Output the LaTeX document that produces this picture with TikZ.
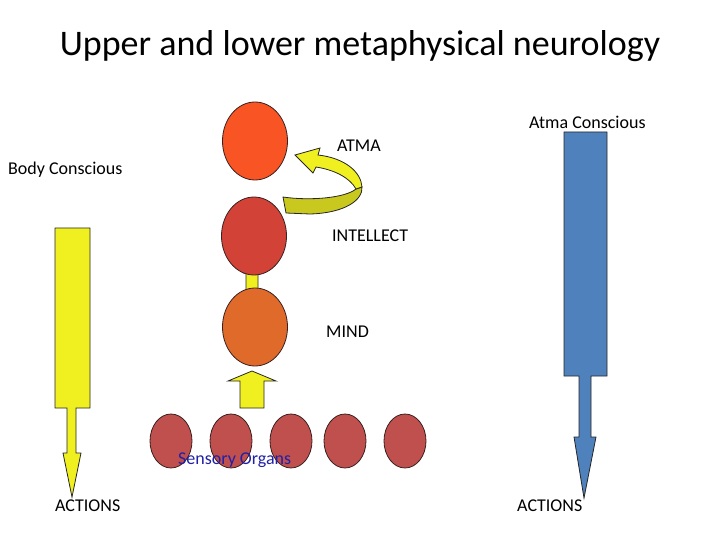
\documentclass[tikz,border=0pt]{standalone}
\usepackage{fontspec}
\setmainfont{Carlito}
\usetikzlibrary{shapes.geometric}
\definecolor{atmac}{HTML}{F95423}
\definecolor{intc}{HTML}{D24236}
\definecolor{mindc}{HTML}{E06A2A}
\definecolor{organc}{HTML}{C0504D}
\definecolor{yel}{HTML}{F0F020}
\definecolor{olive}{HTML}{C8C81E}
\definecolor{bluec}{HTML}{4F81BD}
\definecolor{textblue}{HTML}{2020A8}
\definecolor{edge}{HTML}{3A2020}
\begin{document}
\begin{tikzpicture}[x=1pt,y=-1pt,
  blob/.style={ellipse,draw=edge,line width=0.8pt,inner sep=0pt,minimum width=65pt,minimum height=78pt},
  organ/.style={ellipse,draw=edge,line width=0.8pt,fill=organc,inner sep=0pt,minimum width=42pt,minimum height=54pt},
  lbl/.style={font=\fontsize{18}{21}\selectfont,inner sep=0pt},
  shapeline/.style={draw=black!85,line width=0.8pt,line join=miter}]
\useasboundingbox (0,0) rectangle (720,540);
\node[inner sep=0pt,font=\fontsize{36}{42}\selectfont] (title) at (360,46) {Upper and lower metaphysical neurology};

% small yellow link between intellect and mind
\draw[shapeline,fill=yel] (246,290) -- (246,273) -- (244,273) -- (252,268) -- (260,273) -- (258,273) -- (258,290) -- cycle;

\node[blob,fill=atmac] (atma) at (255,141) {};
\node[blob,fill=intc] (intellect) at (254,236) {};
\node[blob,fill=mindc] (mind) at (255,327) {};

% big up arrow from organs to mind
\draw[shapeline,fill=yel] (240,408) -- (240,381) -- (228,381) -- (252,371) -- (276,381) -- (264,381) -- (264,408) -- cycle;

% sensory organs
\node[organ] (o1) at (171,441) {};
\node[organ] (o2) at (231,441) {};
\node[organ] (o3) at (291,441) {};
\node[organ] (o4) at (345,441) {};
\node[organ] (o5) at (405,441) {};
\node[lbl,anchor=west,text=textblue] (sens) at (178,460) {Sensory Organs};

% curved arrow (back part, olive)
\draw[shapeline,fill=olive] (283,197) .. controls (310,201) and (345,198) .. (356,189)
  -- (362,187) .. controls (363,200) and (345,213) .. (310,214) -- (286,213) -- cycle;
% curved arrow (front part, yellow)
\draw[shapeline,fill=yel] (362,187) .. controls (361,172) and (345,158) .. (318,155)
  -- (320,148) -- (295,155) -- (313,173) -- (316,167)
  .. controls (335,170) and (350,178) .. (356,189) -- cycle;

% labels
\node[lbl,anchor=west] (latma) at (337,146) {ATMA};
\node[lbl,anchor=west] (lint) at (332,236) {INTELLECT};
\node[lbl,anchor=west] (lmind) at (326,332) {MIND};
\node[lbl,anchor=west] (latmac) at (529,122) {Atma Conscious};
\node[lbl,anchor=west] (lbody) at (8,170) {Body Conscious};
\node[lbl,anchor=west] (lact1) at (55,506) {ACTIONS};
\node[lbl,anchor=west] (lact2) at (517,506) {ACTIONS};

% left yellow arrow
\draw[shapeline,fill=yel] (55,228) -- (90,228) -- (90,408) -- (76,408) -- (76,453) -- (81,453)
  -- (72,497) -- (63,453) -- (67,453) -- (67,408) -- (55,408) -- cycle;
% right blue arrow
\draw[shapeline,fill=bluec] (564,132) -- (607,132) -- (607,376) -- (591,376) -- (591,437) -- (596,437)
  -- (584,498) -- (574,437) -- (579,437) -- (579,376) -- (564,376) -- cycle;
\end{tikzpicture}
\end{document}
